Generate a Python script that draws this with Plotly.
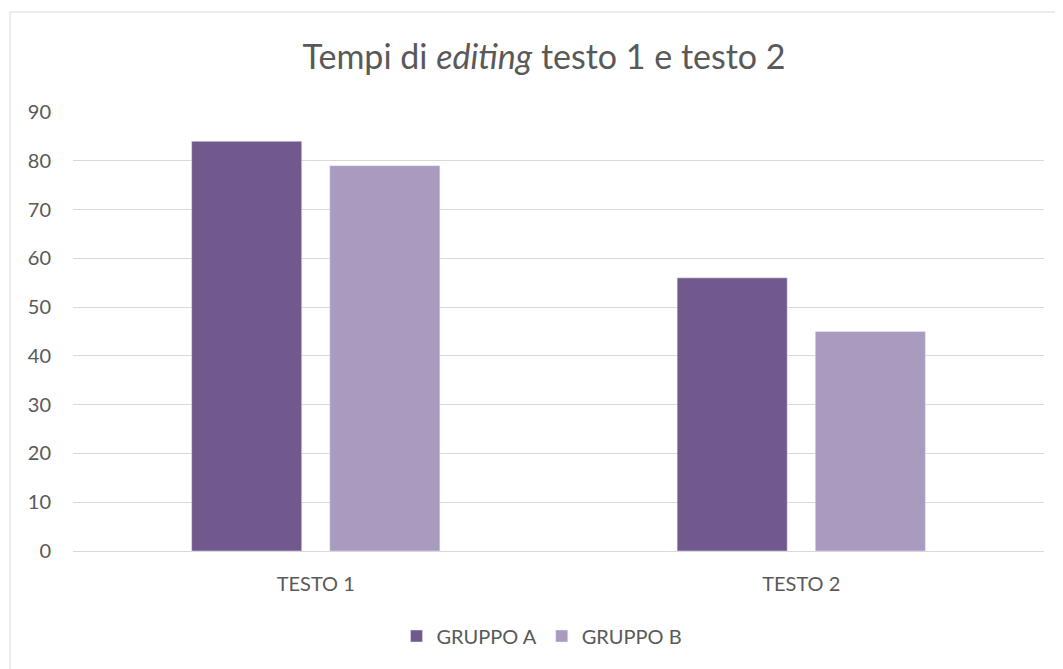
import plotly.graph_objects as go

categories = ["TESTO 1", "TESTO 2"]
gruppo_a = [84, 56]
gruppo_b = [79, 45]
series_names = ["GRUPPO A", "GRUPPO B"]
y_ticks = [0, 10, 20, 30, 40, 50, 60, 70, 80, 90]

# page has an 8px body margin; figure coordinates = page - 8
W, H = 1055, 661
L, R, T, B = 65, 19, 104, 118
pw = W - L - R
ph = H - T - B

fig = go.Figure()
fig.add_trace(go.Bar(name=series_names[0], x=categories, y=gruppo_a, marker_color="#71598E"))
fig.add_trace(go.Bar(name=series_names[1], x=categories, y=gruppo_b, marker_color="#A99BC0"))

font = "Lato, Open Sans, sans-serif"
fig.update_layout(
    width=W, height=H,
    margin=dict(l=L, r=R, t=T, b=B, autoexpand=False),
    paper_bgcolor="white", plot_bgcolor="white",
    barmode="group", bargap=0.431, bargroupgap=0.203,
    title=dict(text="Tempi di <i>editing</i> testo 1 e testo 2",
               x=536 / W, xanchor="center", y=1 - 49 / H, yanchor="middle",
               font=dict(family=font, size=34, color="#595959")),
    font=dict(family=font, size=20, color="#595959"),
    legend=dict(orientation="h", x=(534 - L) / pw, xanchor="center",
                y=(H - B - 628) / ph, yanchor="middle",
                font=dict(family=font, size=20, color="#595959"),
                itemwidth=30, tracegroupgap=0),
    showlegend=True,
)
fig.update_yaxes(range=[0, 90], tickvals=y_ticks, showgrid=True, gridcolor="#D9D9D9",
                 gridwidth=1, zeroline=False, showline=False, ticks="",
                 ticklabelstandoff=21, tickfont=dict(size=20, color="#595959"))
fig.update_xaxes(showline=True, linecolor="#D9D9D9", linewidth=1, ticks="",
                 ticklabelstandoff=15, tickfont=dict(size=20, color="#595959"))

fig.add_shape(type="rect", xref="paper", yref="paper",
              x0=(2 - L) / pw, x1=(W + 20 - L) / pw,
              y0=-(B + 20) / ph, y1=(H - B - 4) / ph,
              line=dict(color="#D9D9D9", width=1), fillcolor="rgba(0,0,0,0)", layer="below")

fig.write_html("out.html")
